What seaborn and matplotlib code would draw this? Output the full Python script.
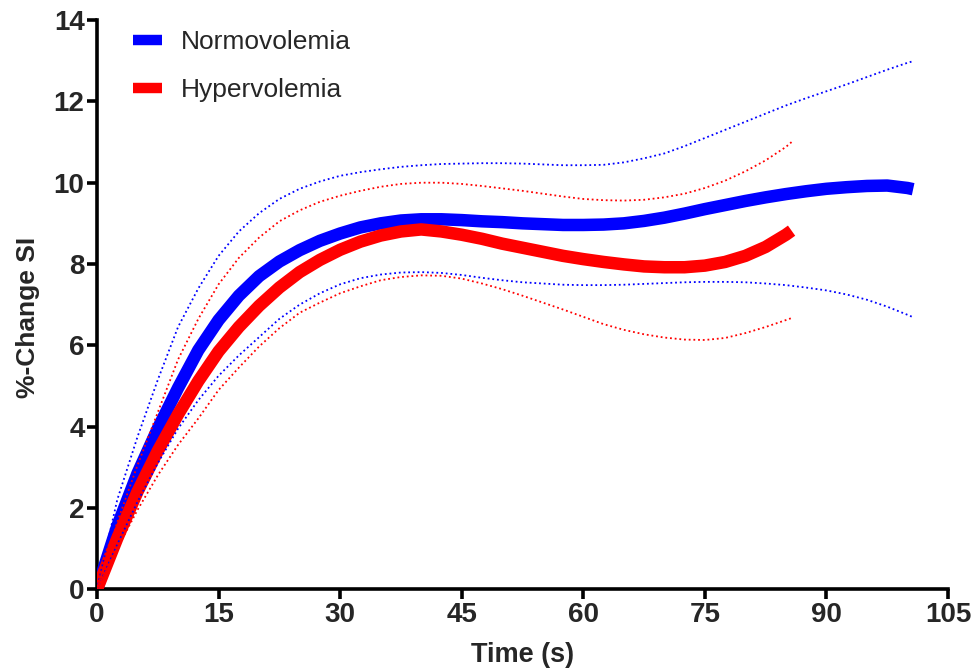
import matplotlib
matplotlib.use("Agg")
import matplotlib.pyplot as plt
from matplotlib.lines import Line2D
import seaborn as sns

# ---- data ----
t_norm = [0, 2.5, 5, 7.5, 10, 12.5, 15, 17.5, 20, 22.5, 25, 27.5, 30, 32.5, 35, 37.5, 40,
          42.5, 45, 47.5, 50, 52.5, 55, 57.5, 60, 62.5, 65, 67.5, 70, 72.5, 75, 77.5, 80,
          82.5, 85, 87.5, 90, 92.5, 95, 97.5, 100, 100.7]
norm_mean = [0, 1.55, 2.85, 3.95, 4.95, 5.88, 6.62, 7.22, 7.7, 8.06, 8.34, 8.57, 8.75, 8.9, 9.0, 9.07, 9.1,
             9.1, 9.08, 9.05, 9.03, 9.0, 8.98, 8.96, 8.96, 8.97, 9.0, 9.06, 9.14, 9.24, 9.35, 9.45, 9.55,
             9.64, 9.72, 9.79, 9.85, 9.89, 9.92, 9.93, 9.87, 9.84]
norm_upper = [0, 2.2, 3.75, 5.15, 6.45, 7.4, 8.2, 8.8, 9.25, 9.6, 9.85, 10.03, 10.17, 10.26, 10.33, 10.39, 10.43,
              10.46, 10.47, 10.48, 10.48, 10.47, 10.45, 10.43, 10.43, 10.44, 10.5, 10.6, 10.72, 10.9, 11.1, 11.3, 11.5,
              11.7, 11.9, 12.08, 12.25, 12.42, 12.6, 12.78, 12.95, 12.99]
norm_lower = [0, 1.1, 2.15, 3.1, 3.95, 4.65, 5.25, 5.75, 6.2, 6.65, 7.0, 7.28, 7.5, 7.65, 7.74, 7.79, 7.8,
              7.78, 7.73, 7.66, 7.6, 7.55, 7.52, 7.49, 7.48, 7.48, 7.49, 7.51, 7.53, 7.55, 7.56, 7.56, 7.55,
              7.52, 7.48, 7.42, 7.35, 7.25, 7.12, 6.95, 6.75, 6.69]

t_hyper = [0, 2.5, 5, 7.5, 10, 12.5, 15, 17.5, 20, 22.5, 25, 27.5, 30, 32.5, 35, 37.5, 40,
           42.5, 45, 47.5, 50, 52.5, 55, 57.5, 60, 62.5, 65, 67.5, 70, 72.5, 75, 77.5, 80,
           82.5, 85, 85.7]
hyper_mean = [0, 1.25, 2.4, 3.4, 4.3, 5.12, 5.85, 6.45, 6.97, 7.42, 7.8, 8.1, 8.35, 8.55, 8.7, 8.8, 8.85,
              8.8, 8.72, 8.62, 8.5, 8.4, 8.3, 8.2, 8.12, 8.05, 7.99, 7.94, 7.92, 7.92, 7.96, 8.05, 8.2,
              8.42, 8.72, 8.82]
hyper_upper = [0, 1.65, 3.05, 4.35, 5.65, 6.65, 7.5, 8.15, 8.65, 9.05, 9.32, 9.53, 9.68, 9.8, 9.9, 9.97, 10.0,
               10.0, 9.97, 9.92, 9.86, 9.8, 9.73, 9.66, 9.6, 9.57, 9.56, 9.58, 9.64, 9.73, 9.87, 10.05, 10.28,
               10.55, 10.88, 11.0]
hyper_lower = [0, 1.0, 1.95, 2.8, 3.55, 4.2, 4.9, 5.45, 5.97, 6.42, 6.8, 7.05, 7.28, 7.45, 7.6, 7.68, 7.72,
               7.71, 7.64, 7.52, 7.38, 7.22, 7.05, 6.88, 6.7, 6.52, 6.38, 6.27, 6.19, 6.14, 6.13, 6.18, 6.3,
               6.45, 6.62, 6.67]

labels = ["Normovolemia", "Hypervolemia"]
colors = ["#0000FF", "#FF0000"]
x_ticks = [0, 15, 30, 45, 60, 75, 90, 105]
y_ticks = [0, 2, 4, 6, 8, 10, 12, 14]

sns.set_style("ticks")
plt.rcParams["font.family"] = ["Liberation Sans", "DejaVu Sans"]

fig = plt.figure(figsize=(9.74, 6.71), dpi=100)
ax = fig.add_axes([0.0996, 0.122, 0.8737, 0.848])

dotted = (0, (1.0, 1.6))
series = [
    (t_norm, norm_mean, norm_upper, norm_lower, colors[0]),
    (t_hyper, hyper_mean, hyper_upper, hyper_lower, colors[1]),
]
for t, m, up, lo, c in series:
    sns.lineplot(x=t, y=m, ax=ax, color=c, lw=9, sort=False, estimator=None,
                 solid_capstyle="butt", solid_joinstyle="round", zorder=3)
for t, m, up, lo, c in series:
    for band in (up, lo):
        sns.lineplot(x=t, y=band, ax=ax, color=c, lw=1.3, sort=False, estimator=None,
                     linestyle=dotted, zorder=4)

ax.set_xlim(0, 105)
ax.set_ylim(0, 14)
ax.set_xticks(x_ticks)
ax.set_yticks(y_ticks)
ax.set_xticklabels([str(v) for v in x_ticks], fontsize=20, fontweight="bold")
ax.set_yticklabels([str(v) for v in y_ticks], fontsize=20, fontweight="bold")
ax.tick_params(axis="both", direction="out", length=7, width=2.6, pad=2, color="black")
for s in ("left", "bottom"):
    ax.spines[s].set_linewidth(2.6)
    ax.spines[s].set_color("black")
    ax.spines[s].set_clip_on(False)
sns.despine(ax=ax)
ax.set_xlabel("Time (s)", fontsize=19.5, fontweight="bold", labelpad=10)
ax.set_ylabel("%-Change SI", fontsize=19, fontweight="bold")
ax.yaxis.set_label_coords(-0.067, 0.478)

handles = [Line2D([0], [0], color=c, lw=7.5, solid_capstyle="butt") for c in colors]
ax.legend(handles, labels, loc="upper left", bbox_to_anchor=(0.022, 1.012), frameon=False,
          fontsize=19, handlelength=1.1, handletextpad=0.7, labelspacing=0.9,
          borderaxespad=0.25)

fig.savefig("out.png", dpi=100)
